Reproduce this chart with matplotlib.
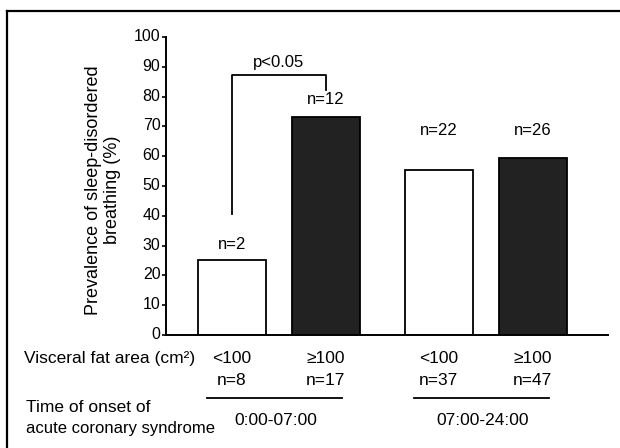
import matplotlib
matplotlib.use("Agg")
import matplotlib.pyplot as plt
import matplotlib.transforms as mtransforms
from matplotlib.lines import Line2D
import numpy as np

plt.rcParams['font.family'] = ['Liberation Sans', 'DejaVu Sans']

# data
prevalence = [25, 73, 55.5, 59.5]
bar_n = ["n=2", "n=12", "n=22", "n=26"]
fat_labels = ["<100", "\u2265100", "<100", "\u2265100"]
group_n = ["n=8", "n=17", "n=37", "n=47"]
onset_labels = ["0:00-07:00", "07:00-24:00"]
bar_colors = ["white", "#222222", "white", "#222222"]
y_ticks = [0, 10, 20, 30, 40, 50, 60, 70, 80, 90, 100]

x = np.array([0, 1, 2.2, 3.2])
label_y = [28.0, 76.5, 66.0, 66.0]

fig = plt.figure(figsize=(6.2, 4.48), dpi=100)
ax = fig.add_axes([166 / 620, 1 - 335 / 448, (608 - 166) / 620, (335 - 37) / 448])

ax.bar(x, prevalence, width=0.72, color=bar_colors, edgecolor="black", linewidth=1.3)

for xi, lab, ly in zip(x, bar_n, label_y):
    ax.text(xi, ly, lab, ha="center", va="bottom", fontsize=12)

# significance bracket
ax.plot([x[0], x[0], x[1], x[1]], [40.7, 87.3, 87.3, 82.3], color="black", lw=1.3)
ax.text((x[0] + x[1]) / 2, 89, "p<0.05", ha="center", va="bottom", fontsize=12)

ax.set_xlim(-0.70, 4.0)
ax.set_ylim(0, 100)
ax.set_yticks(y_ticks)
ax.set_xticks([])
ax.tick_params(axis="y", direction="out", length=3, width=1.2, pad=1, labelsize=11.5)
shift = mtransforms.ScaledTranslation(0, 2 / 100, fig.dpi_scale_trans)
for t in ax.get_yticklabels():
    t.set_transform(t.get_transform() + shift)
for s in ["top", "right"]:
    ax.spines[s].set_visible(False)
ax.spines["left"].set_linewidth(1.4)
ax.spines["bottom"].set_linewidth(1.4)

fig.text(103 / 620, 1 - 190 / 448, "Prevalence of sleep-disordered\nbreathing (%)",
         rotation=90, ha="center", va="center", multialignment="center", fontsize=13,
         linespacing=1.1)

# labels below the axis
trans = mtransforms.blended_transform_factory(ax.transData, fig.transFigure)
fig.text(24 / 620, 1 - 358 / 448, "Visceral fat area (cm\u00b2)", ha="left", va="center", fontsize=12.5)
for xi, fl, gn in zip(x, fat_labels, group_n):
    ax.text(xi, 1 - 358 / 448, fl, transform=trans, ha="center", va="center", fontsize=12.5)
    ax.text(xi, 1 - 380 / 448, gn, transform=trans, ha="center", va="center", fontsize=12.5)

for i, lab in enumerate(onset_labels):
    x0, x1 = x[2 * i], x[2 * i + 1]
    line = Line2D([x0 - 0.26, x1 + 0.17], [1 - 398 / 448] * 2, transform=trans,
                  color="black", lw=1.3)
    fig.add_artist(line)
    ax.text((x0 + x1) / 2 - 0.03, 1 - 420 / 448, lab, transform=trans,
            ha="center", va="center", fontsize=12.5)

fig.text(26 / 620, 1 - 407 / 448, "Time of onset of", ha="left", va="center", fontsize=12.5)
fig.text(26 / 620, 1 - 428 / 448, "acute coronary syndrome", ha="left", va="center", fontsize=12)

# frame (only top and left edges visible in the scan)
fig.add_artist(Line2D([7 / 620, 1.0], [1 - 11 / 448] * 2, color="black", lw=1.6))
fig.add_artist(Line2D([7 / 620, 7 / 620], [0, 1 - 11 / 448], color="black", lw=1.6))

fig.savefig("out.png", dpi=100)
